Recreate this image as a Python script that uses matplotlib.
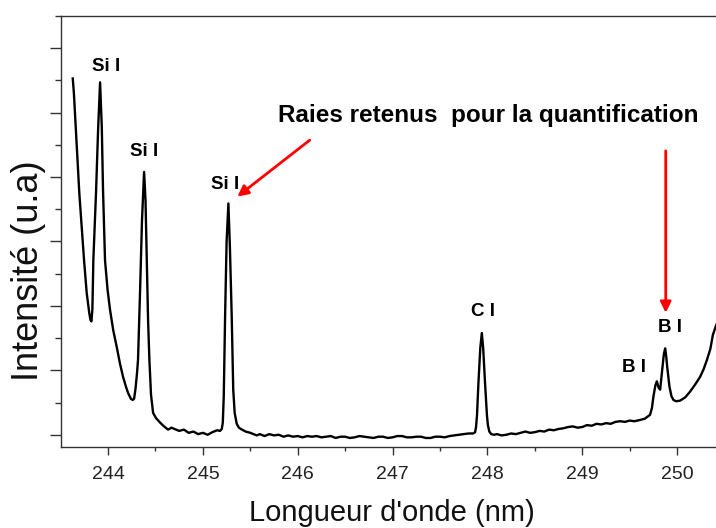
import numpy as np
import matplotlib
matplotlib.use("Agg")
import matplotlib.pyplot as plt
from matplotlib.ticker import MultipleLocator

plt.rcParams['font.family'] = ['Liberation Sans', 'DejaVu Sans']

# spectrum (wavelength in nm, intensity in arbitrary units)
wavelength = [
    243.628, 243.640, 243.659, 243.697, 243.747, 243.775, 243.802, 243.815, 243.825, 243.835,
    243.845, 243.873, 243.895, 243.916, 243.934, 243.947, 243.968, 243.995, 244.021, 244.055,
    244.092, 244.125, 244.158, 244.190, 244.211, 244.240, 244.260, 244.275, 244.290, 244.305,
    244.316, 244.337, 244.358, 244.380, 244.395, 244.408, 244.422, 244.436, 244.453, 244.475,
    244.505, 244.548, 244.590, 244.633, 244.67,
    244.70, 244.75, 244.80, 244.85, 244.90, 244.95, 245.00, 245.05, 245.10, 245.15,
    245.18, 245.199, 245.21, 245.22, 245.234, 245.25, 245.269, 245.285, 245.304, 245.32,
    245.335, 245.357, 245.38, 245.40, 245.45, 245.50, 245.568, 245.60, 245.65, 245.70,
    245.75, 245.80, 245.85, 245.90, 245.95, 246.00, 246.05, 246.10, 246.15, 246.20,
    246.25, 246.30, 246.35, 246.40, 246.45, 246.50, 246.55, 246.60, 246.65, 246.70,
    246.75, 246.80, 246.85, 246.90, 246.95, 247.00, 247.05, 247.10, 247.15, 247.20,
    247.25, 247.30, 247.35, 247.40, 247.45, 247.50, 247.55, 247.60, 247.65, 247.70,
    247.75, 247.80, 247.85, 247.87, 247.88, 247.89, 247.905, 247.925, 247.941, 247.955,
    247.975, 247.995, 248.005, 248.02, 248.04, 248.07, 248.10, 248.15, 248.20, 248.25,
    248.30, 248.35, 248.40, 248.45, 248.50, 248.55, 248.60, 248.65, 248.70, 248.75,
    248.80, 248.85, 248.90, 248.95, 249.00, 249.05, 249.10, 249.15, 249.20, 249.25,
    249.30, 249.35, 249.40, 249.45, 249.50, 249.55, 249.61, 249.66, 249.715, 249.735,
    249.75, 249.770, 249.786, 249.805, 249.821, 249.842, 249.860, 249.874, 249.885, 249.895,
    249.919, 249.940, 249.961, 249.990, 250.032, 250.085, 250.137, 250.190, 250.243, 250.280,
    250.314, 250.350, 250.377, 250.414,
]
intensity = [
    5.53, 5.30, 4.78, 3.75, 2.71, 2.20, 1.89, 1.78, 1.76, 1.95,
    2.71, 3.75, 4.73, 5.47, 4.78, 3.80, 2.71, 2.25, 1.94, 1.62,
    1.36, 1.11, 0.90, 0.74, 0.65, 0.56, 0.54, 0.56, 0.72, 0.95,
    1.16, 2.20, 3.33, 4.08, 3.64, 2.71, 1.78, 1.16, 0.62, 0.34,
    0.26, 0.19, 0.13, 0.08, 0.11,
    0.09, 0.06, 0.08, 0.03, 0.05, 0.01, 0.03, 0.00, 0.04, 0.07,
    0.06, 0.09, 0.19, 0.60, 1.83, 3.00, 3.59, 2.90, 1.83, 0.70,
    0.34, 0.17, 0.11, 0.09, 0.05, 0.03, -0.01, 0.01, -0.02, 0.01,
    -0.01, 0.00, -0.03, -0.01, -0.03, -0.02, -0.04, -0.02, -0.03, -0.02,
    -0.04, -0.03, -0.02, -0.05, -0.03, -0.03, -0.05, -0.04, -0.02, -0.03,
    -0.04, -0.05, -0.03, -0.03, -0.05, -0.04, -0.02, -0.02, -0.04, -0.04,
    -0.03, -0.03, -0.05, -0.05, -0.03, -0.03, -0.04, -0.02, -0.01, 0.00,
    0.01, 0.02, 0.02, 0.04, 0.12, 0.30, 0.80, 1.35, 1.58, 1.35,
    0.80, 0.30, 0.15, 0.05, 0.01, 0.00, 0.01, -0.01, 0.00, 0.02,
    0.01, 0.03, 0.05, 0.03, 0.04, 0.06, 0.05, 0.08, 0.07, 0.09,
    0.10, 0.12, 0.13, 0.11, 0.12, 0.15, 0.14, 0.17, 0.16, 0.18,
    0.17, 0.20, 0.21, 0.20, 0.22, 0.21, 0.23, 0.25, 0.31, 0.42,
    0.59, 0.76, 0.83, 0.73, 0.70, 1.00, 1.25, 1.34, 1.22, 1.06,
    0.75, 0.60, 0.54, 0.52, 0.53, 0.58, 0.67, 0.78, 0.90, 1.02,
    1.16, 1.33, 1.55, 1.71,
]

# line labels: (text, x, y)
line_labels = [
    ("Si I", 243.98, 5.72),
    ("Si I", 244.38, 4.40),
    ("Si I", 245.23, 3.88),
    ("C I", 247.95, 1.91),
    ("B I", 249.55, 1.05),
    ("B I", 249.93, 1.66),
]

fig = plt.figure(figsize=(7.16, 5.28), dpi=100)
ax = fig.add_axes([0.0852, 0.1534, 0.9148, 0.8163])

ax.plot(wavelength, intensity, color='black', lw=1.7)

ax.set_xlim(243.504, 250.41)
ax.set_ylim(-0.19, 6.5)

ax.xaxis.set_major_locator(MultipleLocator(1))
ax.xaxis.set_minor_locator(MultipleLocator(0.5))
ax.yaxis.set_major_locator(MultipleLocator(1))
ax.yaxis.set_minor_locator(MultipleLocator(0.5))
ax.set_yticklabels([])
ax.tick_params(axis='x', which='major', length=6, width=1, colors='#333333',
               labelsize=14, labelcolor='#222222', pad=8)
ax.tick_params(axis='x', which='minor', length=3, width=1, colors='#333333')
ax.tick_params(axis='y', which='major', length=8, width=1, colors='#333333')
ax.tick_params(axis='y', which='minor', length=4, width=1, colors='#333333')

for side in ['left', 'bottom', 'top']:
    ax.spines[side].set_color('#333333')
    ax.spines[side].set_linewidth(1)
ax.spines['right'].set_visible(False)

ax.set_xlabel("Longueur d'onde (nm)", fontsize=21, color='#111111')
ax.set_ylabel("Intensité (u.a)", fontsize=26, color='#111111')
ax.xaxis.label.set_va('center')
ax.yaxis.label.set_va('center')
ax.xaxis.set_label_coords(0.505, -0.153)
ax.yaxis.set_label_coords(-0.050, 0.408)

for txt, x, y in line_labels:
    ax.text(x, y, txt, fontsize=13.5, fontweight='bold', ha='center', va='center')

ax.text(245.79, 4.95, "Raies retenus  pour la quantification", fontsize=17.5,
        fontweight='bold', ha='left', va='center')

arrow = dict(arrowstyle='-|>', color='red', lw=2, mutation_scale=16)
ax.annotate("", xy=(245.34, 3.67), xytext=(246.15, 4.60), arrowprops=arrow)
ax.annotate("", xy=(249.88, 1.85), xytext=(249.88, 4.45), arrowprops=arrow)

fig.savefig("out.png", dpi=100)
